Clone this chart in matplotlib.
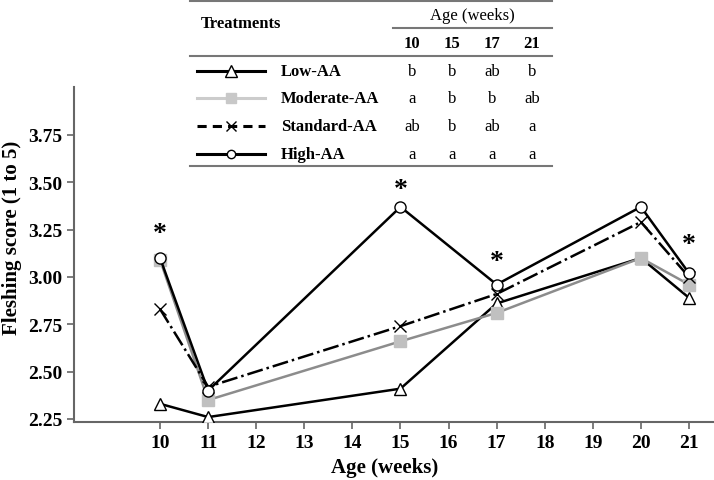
import numpy as np
import matplotlib
matplotlib.use('Agg')
from matplotlib import pyplot as plt
from matplotlib.lines import Line2D

plt.rcParams['font.family'] = ['Liberation Serif', 'DejaVu Serif']

weeks = [10, 11, 15, 17, 20, 21]
low_aa = [2.33, 2.26, 2.41, 2.86, 3.10, 2.89]
moderate_aa = [3.09, 2.35, 2.66, 2.81, 3.10, 2.96]
standard_aa = [2.83, 2.42, 2.74, 2.91, 3.29, 3.00]
high_aa = [3.10, 2.40, 3.37, 2.96, 3.37, 3.02]

star_weeks = [10, 15, 17, 21]
star_y = [3.23, 3.46, 3.08, 3.17]

treatments = ['Low-AA', 'Moderate-AA', 'Standard-AA', 'High-AA']
table_weeks = ['10', '15', '17', '21']
letters = [['b', 'b', 'ab', 'b'],
           ['a', 'b', 'b', 'ab'],
           ['ab', 'b', 'ab', 'a'],
           ['a', 'a', 'a', 'a']]

W, H = 714, 481
fig = plt.figure(figsize=(W / 100, H / 100), dpi=100)
ax = fig.add_axes([74 / W, 1 - 423 / H, (713 - 74) / W, (423 - 88) / H])

styles = [
    dict(color='black', lw=1.8, ls='-', marker='^', ms=9, mfc='white', mec='black', mew=1.0),
    dict(color='#8c8c8c', lw=1.8, ls='-', marker='s', ms=8, mfc='#c0c0c0', mec='#c0c0c0', mew=1.0),
    dict(color='black', lw=1.8, ls='-.', marker='x', ms=8, mew=1.0),
    dict(color='black', lw=1.8, ls='-', marker='o', ms=8, mfc='white', mec='black', mew=1.0),
]
series = [low_aa, moderate_aa, standard_aa, high_aa]
for vals, st in zip(series, styles):
    ax.plot(weeks, vals, zorder=3, **st)

for wk, yv in zip(star_weeks, star_y):
    ax.text(wk, yv, '*', ha='center', va='center', fontsize=20, fontweight='bold')

ax.set_xlim(8.21, 21.5)
ax.set_ylim(2.234, 4.003)
ax.set_xticks(range(10, 22))
ax.set_yticks([2.25, 2.50, 2.75, 3.00, 3.25, 3.50, 3.75])
ax.set_yticklabels(['2.25', '2.50', '2.75', '3.00', '3.25', '3.50', '3.75'])
for s in ['top', 'right']:
    ax.spines[s].set_visible(False)
for s in ['left', 'bottom']:
    ax.spines[s].set_color('#666666')
    ax.spines[s].set_linewidth(1.5)
ax.tick_params(colors='#666666', labelcolor='black', length=5, width=1.2, labelsize=14)
for lab in ax.get_xticklabels() + ax.get_yticklabels():
    lab.set_fontweight('bold')
ax.set_xlabel('Age (weeks)', fontsize=15, fontweight='bold')
ax.set_ylabel('Fleshing score (1 to 5)', fontsize=15, fontweight='bold')
ax.xaxis.set_label_coords((385 - 74) / 639, -(468 - 423) / 335)
ax.yaxis.set_label_coords(-(74 - 12) / 639, (423 - 238) / 335)
ax.xaxis.label.set_va('center')
ax.yaxis.label.set_va('center')

# table drawn in pixel coordinates on an overlay axes
tx = fig.add_axes([0, 0, 1, 1], facecolor='none')
tx.set_xlim(0, W)
tx.set_ylim(H, 0)
tx.axis('off')

rule = dict(color='#777777', lw=1.5)
tx.plot([190, 552], [2, 2], **rule)
tx.plot([393, 552], [29, 29], **rule)
tx.plot([190, 552], [57, 57], **rule)
tx.plot([190, 552], [167, 167], **rule)

tx.text(201, 24, 'Treatments', fontsize=12, fontweight='bold', va='center', ha='left')
tx.text(472, 16, 'Age (weeks)', fontsize=12, va='center', ha='center')
col_x = [412, 452, 492, 532]
for cx, wk in zip(col_x, table_weeks):
    tx.text(cx, 44, wk, fontsize=12, fontweight='bold', va='center', ha='center')

row_y = [72, 99, 127, 155]
leg_styles = [
    dict(color='black', lw=2.2, ls='-', marker='^', ms=8, mfc='white', mec='black', mew=1.0),
    dict(color='#cccccc', lw=2.2, ls='-', marker='s', ms=7, mfc='#c8c8c8', mec='#c8c8c8'),
    dict(color='black', lw=2.2, ls=(0, (3, 2)), marker='x', ms=7, mew=1.0),
    dict(color='black', lw=2.2, ls='-', marker='o', ms=6, mfc='white', mec='black', mew=1.0),
]
for ry, name, st, row in zip(row_y, treatments, leg_styles, letters):
    tx.add_line(Line2D([197, 265], [ry, ry], color=st['color'], lw=st['lw'], ls=st['ls']))
    tx.plot([231], [ry], ls='none', marker=st['marker'], ms=st['ms'], color=st['color'],
            mfc=st.get('mfc', st['color']), mec=st.get('mec', st['color']), mew=st.get('mew', 1.0))
    tx.text(281, ry, name, fontsize=12, fontweight='bold', va='center', ha='left')
    for cx, let in zip(col_x, row):
        tx.text(cx, ry, let, fontsize=12, va='center', ha='center')

fig.savefig('out.png', dpi=100)
